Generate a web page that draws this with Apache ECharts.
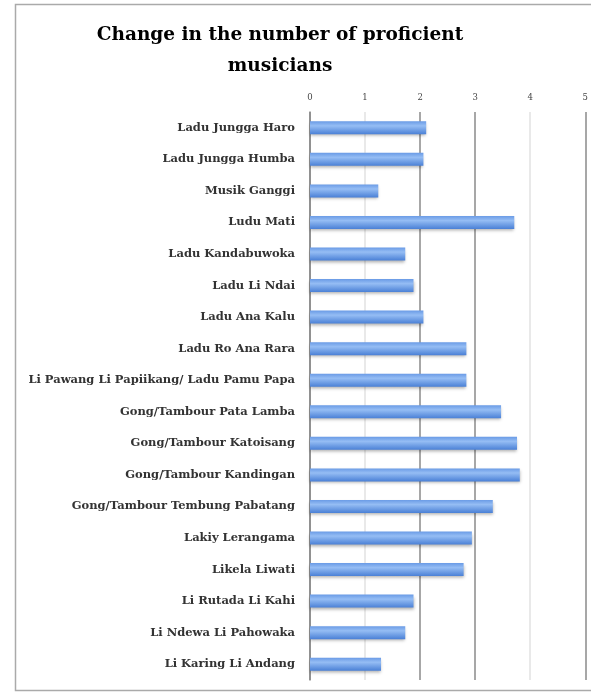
<!DOCTYPE html>
<html><head><meta charset="utf-8">
<script src="https://cdn.jsdelivr.net/npm/echarts@6/dist/echarts.min.js"></script>
<style>html,body{margin:0;padding:0;background:#fff}#c{width:591px;height:695px}</style>
</head><body><div id="c"></div>
<script>
const categories = [
  "Ladu Jungga Haro",
  "Ladu Jungga Humba",
  "Musik Ganggi",
  "Ludu Mati",
  "Ladu Kandabuwoka",
  "Ladu Li Ndai",
  "Ladu Ana Kalu",
  "Ladu Ro Ana Rara",
  "Li Pawang Li Papiikang/ Ladu Pamu Papa",
  "Gong/Tambour Pata Lamba",
  "Gong/Tambour Katoisang",
  "Gong/Tambour Kandingan",
  "Gong/Tambour Tembung Pabatang",
  "Lakiy Lerangama",
  "Likela Liwati",
  "Li Rutada Li Kahi",
  "Li Ndewa Li Pahowaka",
  "Li Karing Li Andang"
];
const values = [2.11, 2.06, 1.24, 3.71, 1.73, 1.88, 2.06, 2.84, 2.84, 3.47, 3.76, 3.81, 3.32, 2.94, 2.79, 1.88, 1.73, 1.29];
const xTicks = [0, 1, 2, 3, 4, 5];

const chart = echarts.init(document.getElementById('c'));
chart.setOption({
  animation: false,
  backgroundColor: '#fff',
  title: {
    text: 'Change in the number of proficient\nmusicians',
    left: 275, top: 15, textAlign: 'center',
    textStyle: { fontFamily: 'DejaVu Serif', fontWeight: 'bold', fontSize: 18.5, lineHeight: 31, color: '#000' }
  },
  graphic: [{
    type: 'rect', shape: { x: 15.5, y: 4.5, width: 580, height: 686 },
    style: { fill: 'none', stroke: '#aaa', lineWidth: 1.5 }, silent: true
  }],
  grid: { left: 310, right: 5, top: 112, bottom: 15 },
  xAxis: {
    type: 'value', position: 'top', min: xTicks[0], max: xTicks[xTicks.length - 1], interval: 1,
    axisLine: { show: false }, axisTick: { show: false },
    axisLabel: { fontFamily: 'DejaVu Serif', fontSize: 8.5, color: '#444', margin: 10 },
    splitLine: { show: true, lineStyle: { color: ['#8a8a8a', '#e2e2e2', '#8a8a8a', '#8a8a8a', '#e2e2e2', '#8a8a8a'], width: 1.5 } }
  },
  yAxis: {
    type: 'category', data: categories, inverse: true,
    axisLine: { show: true, lineStyle: { color: '#8a8a8a', width: 1.5 } },
    axisTick: { show: false },
    axisLabel: { fontFamily: 'DejaVu Serif', fontWeight: 'bold', fontSize: 11.5, color: '#333', margin: 15 }
  },
  series: [{
    type: 'bar', data: values, barWidth: 13,
    itemStyle: {
      color: new echarts.graphic.LinearGradient(0, 0, 0, 1, [
        { offset: 0, color: '#6a9be6' },
        { offset: 0.35, color: '#95bdf4' },
        { offset: 1, color: '#4a80d6' }
      ]),
      shadowColor: 'rgba(0,0,0,0.3)', shadowBlur: 3, shadowOffsetY: 2
    }
  }]
});
</script></body></html>
